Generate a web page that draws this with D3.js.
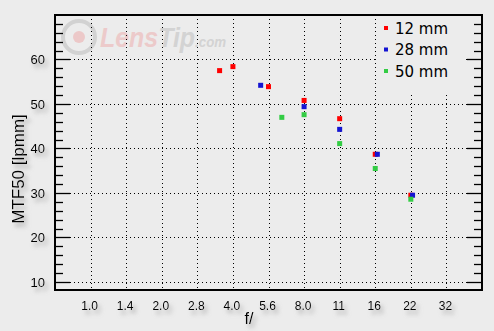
<!DOCTYPE html>
<html><head><meta charset="utf-8">
<script src="https://cdn.jsdelivr.net/npm/d3@7"></script>
<style>
html,body{margin:0;padding:0;background:#ececec;}
svg{display:block;}
</style></head>
<body>
<script>
// ---- data ----
const fStopLabels = ["1.0","1.4","2.0","2.8","4.0","5.6","8.0","11","16","22","32"];
const fStopValues = [1.0,1.4,2.0,2.8,4.0,5.6,8.0,11,16,22,32];
const yTicks = [10,20,30,40,50,60];
const seriesNames = ["12 mm","28 mm","50 mm"];
const seriesColors = ["#ff0000","#1414d2","#33cc44"];
const f12 = [3.5, 4.0, 5.6, 8.0, 11, 16, 22];
const mtf12 = [57.5, 58.4, 53.9, 50.8, 46.7, 38.7, 29.5];
const f28 = [5.2, 8.0, 11, 16.3, 22.4];
const mtf28 = [54.2, 49.4, 44.3, 38.7, 29.5];
const f50 = [6.4, 8.0, 11, 16, 22];
const mtf50 = [47.0, 47.6, 41.1, 35.5, 28.6];

const W = 494, H = 331;
const L = 55, R = 482, T = 15, B = 290;

const svg = d3.select("body").append("svg").attr("width", W).attr("height", H);
svg.append("rect").attr("width", W).attr("height", H).attr("fill", "#ececec");

const defs = svg.append("defs");
const flt = defs.append("filter").attr("id","sh").attr("x","-50%").attr("y","-50%").attr("width","200%").attr("height","200%");
flt.append("feDropShadow").attr("dx",3).attr("dy",4).attr("stdDeviation",2).attr("flood-color","#888").attr("flood-opacity",0.7);

// scales
const stopIdx = d3.scaleLog().domain(fStopValues).range(fStopValues.map((_, i) => i));
const xPix = d3.scaleLinear().domain([-1, 11]).range([L, R]);
const x = f => xPix(stopIdx(f));
const y = d3.scaleLinear().domain([8.2, 70]).range([B, T]);

const FONT = "Liberation Sans, Arial, sans-serif";

// watermark
const wm = svg.append("g");
wm.append("circle").attr("cx",79).attr("cy",37).attr("r",16).attr("fill","none").attr("stroke","#d2d2d2").attr("stroke-width",4);
wm.append("circle").attr("cx",79).attr("cy",37).attr("r",6).attr("fill","#ecc8c8");
const wt = wm.append("text").attr("transform","translate(100,47) scale(0.89,1)").attr("font-family",FONT)
  .attr("font-weight","bold").attr("font-style","italic").attr("font-size",28);
wt.append("tspan").attr("fill","#eccaca").text("Lens");
wt.append("tspan").attr("fill","#d3d3d3").text("Tip");
wt.append("tspan").attr("fill","#d3d3d3").attr("font-size",15).text(".com");

// grid
const grid = svg.append("g").attr("stroke","#000").attr("stroke-width",1).attr("stroke-dasharray","1,3");
grid.selectAll("line.v").data(fStopValues).join("line").attr("class","v")
  .attr("x1", d => Math.round(x(d)) + 0.5).attr("x2", d => Math.round(x(d)) + 0.5)
  .attr("y1", T).attr("y2", B);
grid.selectAll("line.h").data(yTicks).join("line").attr("class","h")
  .attr("x1", L + 15).attr("x2", R - 15)
  .attr("y1", d => Math.round(y(d)) + 0.5).attr("y2", d => Math.round(y(d)) + 0.5);

// legend background
svg.append("rect").attr("x", 377).attr("y", T + 1).attr("width", R - 377 - 16).attr("height", 78).attr("fill","#ececec");

// ticks
const minor = d3.range(10, 70, 2).filter(v => v % 10 !== 0);
const tk = svg.append("g").attr("stroke","#000").attr("stroke-width",1.3);
yTicks.forEach(v => {
  const yy = Math.round(y(v)) + 0.5;
  tk.append("line").attr("x1", L).attr("x2", L + 15).attr("y1", yy).attr("y2", yy);
  tk.append("line").attr("x1", R - 15).attr("x2", R).attr("y1", yy).attr("y2", yy);
});
minor.forEach(v => {
  const yy = Math.round(y(v)) + 0.5;
  tk.append("line").attr("x1", L).attr("x2", L + 8).attr("y1", yy).attr("y2", yy);
  tk.append("line").attr("x1", R - 8).attr("x2", R).attr("y1", yy).attr("y2", yy);
});

// frame
svg.append("rect").attr("x", L).attr("y", T).attr("width", R - L).attr("height", B - T)
  .attr("fill","none").attr("stroke","#000").attr("stroke-width",2);

// points
const series = [[f12, mtf12], [f28, mtf28], [f50, mtf50]];
series.forEach(([fs, ms], si) => {
  svg.append("g").selectAll("rect").data(fs.map((f, i) => [f, ms[i]])).join("rect")
    .attr("x", d => x(d[0]) - 2.5).attr("y", d => y(d[1]) - 2.5)
    .attr("width", 5).attr("height", 5).attr("fill", seriesColors[si]);
});

// tick labels
const lab = svg.append("g").attr("font-family",FONT).attr("fill","#000").attr("filter","url(#sh)");
lab.selectAll("text.x").data(fStopValues).join("text").attr("class","x")
  .attr("font-size",12).attr("text-anchor","middle")
  .attr("x", d => x(d) - 1).attr("y", 310)
  .text((d, i) => fStopLabels[i]);
lab.selectAll("text.y").data(yTicks).join("text").attr("class","y")
  .attr("font-size",13).attr("text-anchor","end")
  .attr("x", 45).attr("y", d => y(d) + 5)
  .text(d => d);

lab.append("text").attr("x", 249).attr("y", 324).attr("text-anchor","middle").attr("font-size",16).text("f/");
lab.append("text").attr("transform","translate(24,169) rotate(-90)").attr("text-anchor","middle").attr("font-size",17).text("MTF50 [lpmm]");

// legend
const lg = svg.append("g").attr("font-family","DejaVu Sans, sans-serif").attr("font-size",15);
seriesNames.forEach((n, i) => {
  const yy = 28 + i * 21.5;
  lg.append("rect").attr("x", 384).attr("y", yy - 2).attr("width", 4).attr("height", 4).attr("fill", seriesColors[i]);
  lg.append("text").attr("x", 395).attr("y", yy + 5.5).attr("fill","#000").text(n);
});
</script>
</body></html>
